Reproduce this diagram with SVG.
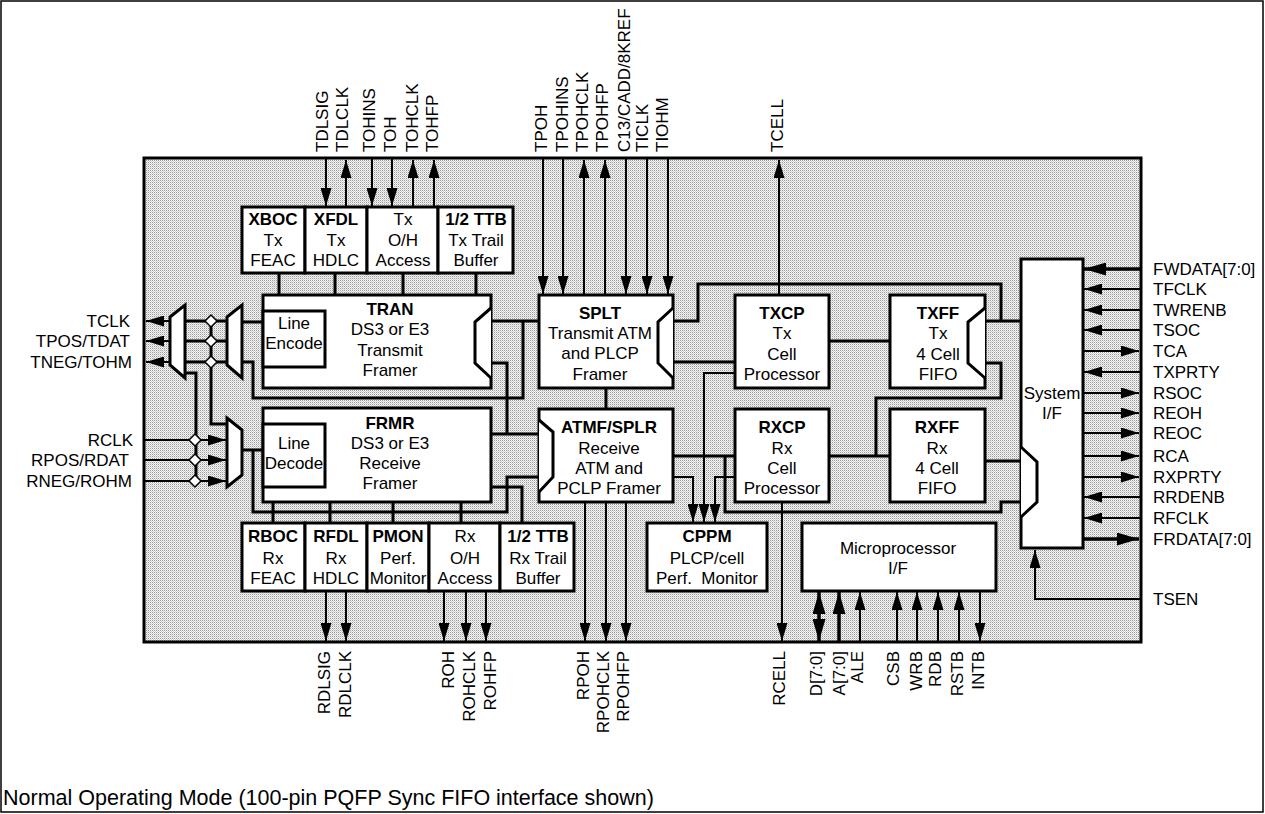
<svg xmlns="http://www.w3.org/2000/svg" width="1265" height="814" viewBox="0 0 1265 814">
<defs>
<pattern id="dots" width="2" height="2" patternUnits="userSpaceOnUse"><rect width="2" height="2" fill="#f4f4f4"/><rect width="1" height="1" fill="#9a9a9a"/><rect x="1" y="1" width="1" height="1" fill="#d0d0d0"/></pattern>
<marker id="a" markerUnits="userSpaceOnUse" markerWidth="19" markerHeight="11" refX="18" refY="5.5" orient="auto-start-reverse"><path d="M0,0 L18,5.5 L0,11 z" fill="#000"/></marker>
<marker id="ab" markerUnits="userSpaceOnUse" markerWidth="23" markerHeight="13" refX="22" refY="6.5" orient="auto-start-reverse"><path d="M0,0 L22,6.5 L0,13 z" fill="#000"/></marker>
<style>
.box{fill:#fff;stroke:#000;stroke-width:3}
.mux{fill:#fff;stroke:#000;stroke-width:3;stroke-linejoin:miter}
.w{fill:none;stroke:#000;stroke-width:3;stroke-linejoin:miter}
.p{fill:none;stroke:#000;stroke-width:2}
.pe{fill:none;stroke:#000;stroke-width:2;marker-end:url(#a)}
.be{fill:none;stroke:#000;stroke-width:3.5;marker-end:url(#ab)}
.dm{fill:#fff;stroke:#000;stroke-width:1.5}
text{font-family:"Liberation Sans",Arial,Helvetica,sans-serif;font-size:17px;fill:#000}
.c{text-anchor:middle}
.b{font-weight:bold}
.e{text-anchor:end}
</style>
</defs>
<rect x="1" y="1" width="1262" height="811" fill="#fff" stroke="#000" stroke-width="1.5"/>
<rect id="chip" x="144" y="158" width="997" height="484" fill="url(#dots)" stroke="#000" stroke-width="3"/>

<g id="connectors">
<!-- internal thick -->
<path class="w" d="M279,273V295M335,273V295M403,273V295M476,273V295"/>
<path class="w" d="M242,322H263"/>
<path class="w" d="M242,362H253V398H523V321"/>
<path class="w" d="M491,321H539"/>
<path class="w" d="M491,363H507V434"/>
<path class="w" d="M491,434H539"/>
<path class="w" d="M185,373H196V481"/>
<path class="w" d="M211,321V424H227"/>
<path class="w" d="M242,450H263"/>
<path class="w" d="M253,450V512H507V477H539"/>
<path class="w" d="M273,502V523M330,502V523M393,502V523M461,502V523"/>
<path class="w" d="M491,487H522V523"/>
<path class="w" d="M606,388V409"/>
<path class="w" d="M673,321H698V284H1001V321"/>
<path class="w" d="M985,321H1021"/>
<path class="w" d="M673,362H735"/>
<path class="w" d="M829,341H890"/>
<path class="w" d="M985,363H1001V398H876V456"/>
<path class="w" d="M829,456H890"/>
<path class="w" d="M985,461H1021"/>
<path class="w" d="M673,456H735"/>
<path class="w" d="M725,456V512H1001V502H1021"/>
<!-- CPPM feeds -->
<path class="pe" d="M673,477H693V522"/>
<path class="pe" d="M735,373H704V522"/>
<path class="pe" d="M735,477H715V522"/>
<!-- left Tx -->
<path class="pe" d="M170,321H146"/>
<path class="pe" d="M170,341H146"/>
<path class="pe" d="M170,362H146"/>
<path class="w" d="M185,321H227M185,341H227M185,362H227"/>
<!-- left Rx -->
<path class="pe" d="M145,440H226"/>
<path class="pe" d="M145,460H226"/>
<path class="pe" d="M145,481H226"/>
<!-- junction diamonds -->
<path class="dm" d="M211,315L217,321L211,327L205,321zM211,335L217,341L211,347L205,341zM211,356L217,362L211,368L205,362z"/>
<path class="dm" d="M195,434L201,440L195,446L189,440zM195,454L201,460L195,466L189,460zM195,475L201,481L195,487L189,481z"/>
<!-- top pins -->
<path class="pe" d="M326,158V206"/>
<path class="pe" d="M346,207V160"/>
<path class="pe" d="M372,158V206"/>
<path class="pe" d="M392,158V206"/>
<path class="pe" d="M413,207V160"/>
<path class="pe" d="M434,207V160"/>
<path class="pe" d="M543,158V294"/>
<path class="pe" d="M563,158V294"/>
<path class="pe" d="M584,295V160"/>
<path class="pe" d="M605,295V160"/>
<path class="pe" d="M626,158V294"/>
<path class="pe" d="M647,158V294"/>
<path class="pe" d="M668,158V294"/>
<path class="pe" d="M779,295V160"/>
<!-- bottom pins -->
<path class="pe" d="M326,591V641"/>
<path class="pe" d="M346,591V641"/>
<path class="pe" d="M444,591V641"/>
<path class="pe" d="M466,591V641"/>
<path class="pe" d="M486,591V641"/>
<path class="pe" d="M585,502V641"/>
<path class="pe" d="M606,502V641"/>
<path class="pe" d="M626,502V641"/>
<path class="pe" d="M782,502V641"/>
<path d="M819,592V641" fill="none" stroke="#000" stroke-width="3.5" marker-start="url(#ab)" marker-end="url(#ab)"/>
<path class="be" d="M839,642V592"/>
<path class="pe" d="M860,642V592"/>
<path class="pe" d="M897,642V592"/>
<path class="pe" d="M917,642V592"/>
<path class="pe" d="M938,642V592"/>
<path class="pe" d="M959,642V592"/>
<path class="pe" d="M980,591V641"/>
<!-- right pins -->
<path class="be" d="M1140,269H1084"/>
<path class="pe" d="M1140,289H1084"/>
<path class="pe" d="M1140,310H1084"/>
<path class="pe" d="M1140,330H1084"/>
<path class="pe" d="M1083,351H1139"/>
<path class="pe" d="M1140,372H1084"/>
<path class="pe" d="M1083,393H1139"/>
<path class="pe" d="M1083,413H1139"/>
<path class="pe" d="M1083,433H1139"/>
<path class="pe" d="M1083,456H1139"/>
<path class="pe" d="M1083,477H1139"/>
<path class="pe" d="M1140,497H1084"/>
<path class="pe" d="M1140,518H1084"/>
<path class="be" d="M1083,539H1139"/>
<path class="pe" d="M1140,599H1035V550"/>
</g>

<g id="mux-tx1"><polygon class="mux" points="170,317 185,305 185,378 170,365"/></g>
<g id="mux-tx2"><polygon class="mux" points="227,317 242,305 242,378 227,365"/></g>
<g id="mux-rx"><polygon class="mux" points="227,418 242,430 242,475 227,487"/></g>

<g id="XBOC"><rect class="box" x="242" y="207" width="63" height="66"/><text class="c b" x="273" y="225">XBOC</text><text class="c" x="273" y="246">Tx</text><text class="c" x="273" y="266">FEAC</text></g>
<g id="XFDL"><rect class="box" x="305" y="207" width="62" height="66"/><text class="c b" x="336" y="225">XFDL</text><text class="c" x="336" y="246">Tx</text><text class="c" x="336" y="266">HDLC</text></g>
<g id="TxOH"><rect class="box" x="367" y="207" width="71" height="66"/><text class="c" x="403" y="225">Tx</text><text class="c" x="403" y="246">O/H</text><text class="c" x="403" y="266">Access</text></g>
<g id="TxTTB"><rect class="box" x="438" y="207" width="75" height="66"/><text class="c b" x="476" y="225">1/2 TTB</text><text class="c" x="476" y="246">Tx Trail</text><text class="c" x="476" y="266">Buffer</text></g>

<g id="TRAN"><rect class="box" x="263" y="295" width="228" height="93"/><polyline class="mux" points="491,308 475,322 475,363 491,378"/><rect class="box" x="263" y="311" width="62" height="56"/><text class="c" x="294" y="329">Line</text><text class="c" x="294" y="349">Encode</text><text class="c b" x="390" y="315">TRAN</text><text class="c" x="390" y="335">DS3 or E3</text><text class="c" x="390" y="356">Transmit</text><text class="c" x="390" y="376">Framer</text></g>
<g id="FRMR"><rect class="box" x="263" y="408" width="228" height="94"/><rect class="box" x="263" y="424" width="62" height="63"/><text class="c" x="294" y="449">Line</text><text class="c" x="294" y="469">Decode</text><text class="c b" x="390" y="429">FRMR</text><text class="c" x="390" y="449">DS3 or E3</text><text class="c" x="390" y="469">Receive</text><text class="c" x="390" y="489">Framer</text></g>

<g id="SPLT"><rect class="box" x="539" y="295" width="134" height="93"/><polyline class="mux" points="673,308 658,322 658,363 673,378"/><text class="c b" x="600" y="319">SPLT</text><text class="c" x="600" y="339">Transmit ATM</text><text class="c" x="600" y="359">and PLCP</text><text class="c" x="600" y="380">Framer</text></g>
<g id="ATMF"><rect class="box" x="539" y="409" width="134" height="93"/><polyline class="mux" points="539,420 553,432 553,477 539,492"/><text class="c b" x="609" y="433">ATMF/SPLR</text><text class="c" x="609" y="454">Receive</text><text class="c" x="609" y="474">ATM and</text><text class="c" x="609" y="494">PCLP Framer</text></g>

<g id="TXCP"><rect class="box" x="735" y="295" width="94" height="93"/><text class="c b" x="782" y="319">TXCP</text><text class="c" x="782" y="339">Tx</text><text class="c" x="782" y="360">Cell</text><text class="c" x="782" y="380">Processor</text></g>
<g id="TXFF"><rect class="box" x="890" y="295" width="95" height="93"/><polyline class="mux" points="985,308 968,322 968,363 985,378"/><text class="c b" x="938" y="319">TXFF</text><text class="c" x="938" y="339">Tx</text><text class="c" x="938" y="360">4 Cell</text><text class="c" x="938" y="380">FIFO</text></g>
<g id="RXCP"><rect class="box" x="735" y="409" width="94" height="93"/><text class="c b" x="782" y="433">RXCP</text><text class="c" x="782" y="454">Rx</text><text class="c" x="782" y="474">Cell</text><text class="c" x="782" y="494">Processor</text></g>
<g id="RXFF"><rect class="box" x="890" y="409" width="95" height="93"/><text class="c b" x="937" y="433">RXFF</text><text class="c" x="937" y="454">Rx</text><text class="c" x="937" y="474">4 Cell</text><text class="c" x="937" y="494">FIFO</text></g>

<g id="SysIF"><rect class="box" x="1021" y="259" width="62" height="289"/><polyline class="mux" points="1021,447 1037,462 1037,502 1021,517"/><text class="c" x="1052" y="399">System</text><text class="c" x="1052" y="419">I/F</text></g>

<g id="RBOC"><rect class="box" x="242" y="523" width="63" height="68"/><text class="c b" x="273" y="542">RBOC</text><text class="c" x="273" y="564">Rx</text><text class="c" x="273" y="584">FEAC</text></g>
<g id="RFDL"><rect class="box" x="305" y="523" width="62" height="68"/><text class="c b" x="336" y="542">RFDL</text><text class="c" x="336" y="564">Rx</text><text class="c" x="336" y="584">HDLC</text></g>
<g id="PMON"><rect class="box" x="367" y="523" width="62" height="68"/><text class="c b" x="398" y="542">PMON</text><text class="c" x="398" y="564">Perf.</text><text class="c" x="398" y="584">Monitor</text></g>
<g id="RxOH"><rect class="box" x="429" y="523" width="71" height="68"/><text class="c" x="465" y="542">Rx</text><text class="c" x="465" y="564">O/H</text><text class="c" x="465" y="584">Access</text></g>
<g id="RxTTB"><rect class="box" x="500" y="523" width="74" height="68"/><text class="c b" x="538" y="542">1/2 TTB</text><text class="c" x="538" y="564">Rx Trail</text><text class="c" x="538" y="584">Buffer</text></g>
<g id="CPPM"><rect class="box" x="647" y="523" width="120" height="68"/><text class="c b" x="707" y="542">CPPM</text><text class="c" x="707" y="564">PLCP/cell</text><text class="c" x="707" y="584">Perf.&#160; Monitor</text></g>
<g id="MPIF"><rect class="box" x="802" y="523" width="194" height="68"/><text class="c" x="898" y="554">Microprocessor</text><text class="c" x="898" y="574">I/F</text></g>

<g id="labels">
<text transform="translate(328,152) rotate(-90)">TDLSIG</text>
<text transform="translate(348,152) rotate(-90)">TDLCLK</text>
<text transform="translate(375,152) rotate(-90)">TOHINS</text>
<text transform="translate(396,152) rotate(-90)">TOH</text>
<text transform="translate(418,152) rotate(-90)">TOHCLK</text>
<text transform="translate(438,152) rotate(-90)">TOHFP</text>
<text transform="translate(547,152) rotate(-90)">TPOH</text>
<text transform="translate(568,152) rotate(-90)">TPOHINS</text>
<text transform="translate(588,152) rotate(-90)">TPOHCLK</text>
<text transform="translate(608,152) rotate(-90)">TPOHFP</text>
<text transform="translate(630,152) rotate(-90)">C13/CADD/8KREF</text>
<text transform="translate(648,152) rotate(-90)">TICLK</text>
<text transform="translate(668,152) rotate(-90)">TIOHM</text>
<text transform="translate(783,152) rotate(-90)">TCELL</text>

<text class="e" transform="translate(330,651) rotate(-90)">RDLSIG</text>
<text class="e" transform="translate(351,651) rotate(-90)">RDLCLK</text>
<text class="e" transform="translate(454,651) rotate(-90)">ROH</text>
<text class="e" transform="translate(475,651) rotate(-90)">ROHCLK</text>
<text class="e" transform="translate(496,651) rotate(-90)">ROHFP</text>
<text class="e" transform="translate(589,651) rotate(-90)">RPOH</text>
<text class="e" transform="translate(609,651) rotate(-90)">RPOHCLK</text>
<text class="e" transform="translate(629,651) rotate(-90)">RPOHFP</text>
<text class="e" transform="translate(785,651) rotate(-90)">RCELL</text>
<text class="e" transform="translate(822,651) rotate(-90)">D[7:0]</text>
<text class="e" transform="translate(845,651) rotate(-90)">A[7:0]</text>
<text class="e" transform="translate(863,651) rotate(-90)">ALE</text>
<text class="e" transform="translate(899,651) rotate(-90)">CSB</text>
<text class="e" transform="translate(922,651) rotate(-90)">WRB</text>
<text class="e" transform="translate(941,651) rotate(-90)">RDB</text>
<text class="e" transform="translate(963,651) rotate(-90)">RSTB</text>
<text class="e" transform="translate(984,651) rotate(-90)">INTB</text>

<text class="e" x="130" y="327">TCLK</text>
<text class="e" x="130" y="347">TPOS/TDAT</text>
<text class="e" x="132" y="368">TNEG/TOHM</text>
<text class="e" x="133" y="446">RCLK</text>
<text class="e" x="129" y="466">RPOS/RDAT</text>
<text class="e" x="132" y="487">RNEG/ROHM</text>

<text x="1153" y="275">FWDATA[7:0]</text>
<text x="1153" y="295">TFCLK</text>
<text x="1153" y="316">TWRENB</text>
<text x="1153" y="336">TSOC</text>
<text x="1153" y="357">TCA</text>
<text x="1153" y="378">TXPRTY</text>
<text x="1153" y="399">RSOC</text>
<text x="1153" y="419">REOH</text>
<text x="1153" y="439">REOC</text>
<text x="1153" y="462">RCA</text>
<text x="1153" y="483">RXPRTY</text>
<text x="1153" y="503">RRDENB</text>
<text x="1153" y="524">RFCLK</text>
<text x="1153" y="545">FRDATA[7:0]</text>
<text x="1153" y="605">TSEN</text>
</g>
<text x="3" y="805" style="font-size:21.5px">Normal Operating Mode (100-pin PQFP Sync FIFO interface shown)</text>
</svg>
